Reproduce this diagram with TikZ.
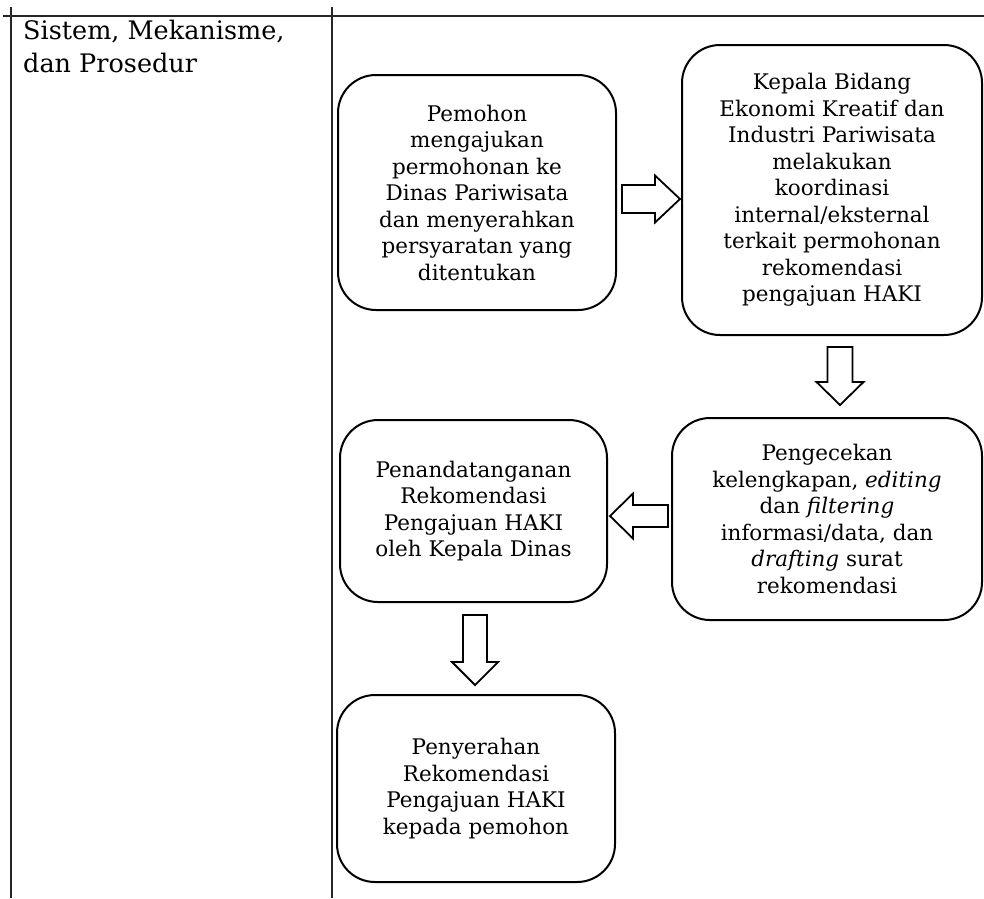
\documentclass[tikz,border=0pt]{standalone}
\usepackage{fontspec}
\setmainfont{DejaVu Serif}
\newcommand\boxfont{\fontsize{21.5}{26.5}\selectfont}
\newcommand\headfont{\fontsize{25.5}{33}\selectfont}
\newcommand\blkarrow[8]{% x y rot length shaft head headlen
  \draw[blk, shift={(#1,#2)}, rotate=#3]
    ({-#4/2},{-#5/2}) -- ({#4/2-#7},{-#5/2}) -- ({#4/2-#7},{-#6/2}) -- ({#4/2},0)
    -- ({#4/2-#7},{#6/2}) -- ({#4/2-#7},{#5/2}) -- ({-#4/2},{#5/2}) -- cycle;}
\begin{document}
\begin{tikzpicture}[x=1pt,y=-1pt,
  box/.style={draw=black, line width=2pt, rounded corners=38pt, align=center, inner sep=0pt, font=\boxfont},
  blk/.style={draw=black, line width=1.8pt, fill=white, line join=miter},
  rule/.style={draw=black!85, line width=1.4pt}]
\useasboundingbox (0,0) rectangle (984,898);
% table rules
\draw[rule] (3,16) -- (984,16);
\draw[rule] (11,7) -- (11,898);
\draw[rule] (332,7) -- (332,898);
\node[anchor=north west, align=left, inner sep=0pt, font=\headfont] (hdr) at (23,20) {Sistem, Mekanisme,\\dan Prosedur};
% boxes
\node[box, minimum width=278pt, minimum height=235pt] (b1) at (477,192.5)
  {Pemohon\\mengajukan\\permohonan ke\\Dinas Pariwisata\\dan menyerahkan\\persyaratan yang\\ditentukan};
\node[box, minimum width=300pt, minimum height=290pt] (b2) at (832,190)
  {Kepala Bidang\\Ekonomi Kreatif dan\\Industri Pariwisata\\melakukan\\koordinasi\\internal/eksternal\\terkait permohonan\\rekomendasi\\pengajuan HAKI};
\node[box, minimum width=310pt, minimum height=202pt] (b3) at (827,519)
  {Pengecekan\\kelengkapan, \textit{editing}\\dan \textit{filtering}\\informasi/data, dan\\\textit{drafting} surat\\rekomendasi};
\node[box, minimum width=267pt, minimum height=182pt] (b4) at (473.5,511)
  {Penandatanganan\\Rekomendasi\\Pengajuan HAKI\\oleh Kepala Dinas};
\node[box, minimum width=278pt, minimum height=187pt] (b5) at (476,788.5)
  {Penyerahan\\Rekomendasi\\Pengajuan HAKI\\kepada pemohon};
% block arrows
\blkarrow{651}{199}{0}{58}{28}{47}{25}{}
\blkarrow{840}{376}{-90}{58}{25}{47}{23}{}
\blkarrow{639}{516}{180}{58}{22}{45}{23}{}
\blkarrow{475}{650}{-90}{70}{24}{46}{23}{}
\end{tikzpicture}
\end{document}
